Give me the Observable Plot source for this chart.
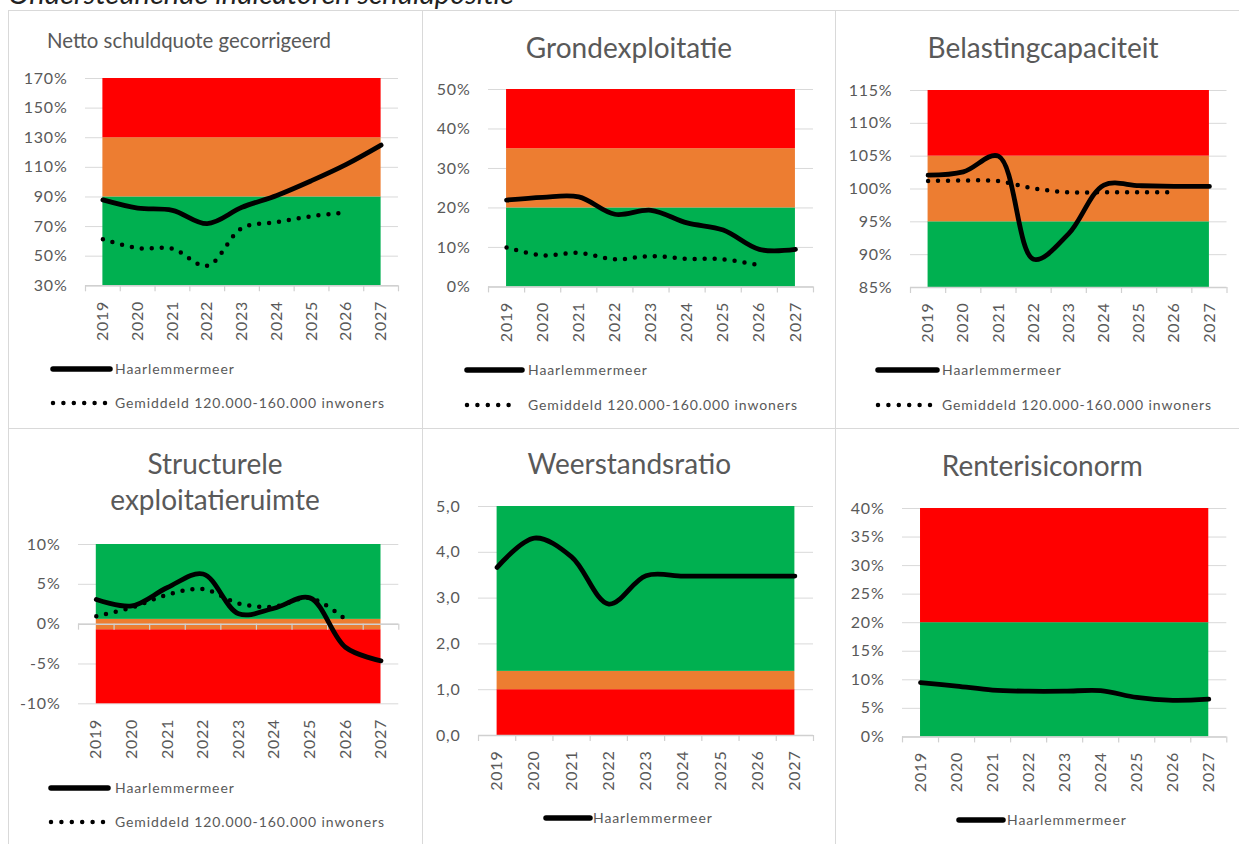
<!DOCTYPE html>
<html><head><meta charset="utf-8">
<script src="https://cdn.jsdelivr.net/npm/d3@7"></script>
<script src="https://cdn.jsdelivr.net/npm/@observablehq/plot@0.6"></script>
<style>
body{margin:0;background:#fff;width:1239px;height:844px;overflow:hidden;position:relative;font-family:Lato,"Open Sans",sans-serif;}
.panel{position:absolute;border:1px solid #d9d9d9;box-sizing:border-box;}
.title{position:absolute;color:#595959;font-size:28px;white-space:nowrap;line-height:36px;text-align:center;transform:translate(-50%,-50%);}
.lt{position:absolute;color:#595959;font-size:14px;letter-spacing:0.9px;white-space:nowrap;line-height:20px;transform:translateY(-50%);}
.sw{position:absolute;overflow:visible;}
.plotwrap{position:absolute;}
.plotwrap svg{overflow:visible;}
#main{position:absolute;left:8px;top:-22px;font-style:italic;font-size:29px;color:#222;white-space:nowrap;line-height:29px;}
</style></head>
<body>
<div id="main">Ondersteunende indicatoren schuldpositie</div>
<script>
// ---- data ----
const years = [2019, 2020, 2021, 2022, 2023, 2024, 2025, 2026, 2027];
const legendH = "Haarlemmermeer";
const legendG = "Gemiddeld 120.000-160.000 inwoners";

const nettoTitle = "Netto schuldquote gecorrigeerd";
const nettoH = [88, 82.5, 81, 72, 83, 91, 101, 112, 125];
const nettoG = [61.5, 55.5, 55, 43.5, 69, 73, 77, 79.5];
const nettoTicks = [30, 50, 70, 90, 110, 130, 150, 170];
const nettoEdges = [30, 90, 130, 170];
const nettoZones = ["groen", "oranje", "rood"];

const grondTitle = "Grondexploitatie";
const grondH = [22, 22.7, 22.8, 18.4, 19.4, 16.2, 14.4, 9.5, 9.5];
const grondG = [10, 8, 8.6, 7, 7.8, 7.1, 7, 5.5];
const grondTicks = [0, 10, 20, 30, 40, 50];
const grondEdges = [0, 20, 35, 50];
const grondZones = ["groen", "oranje", "rood"];

const belastTitle = "Belastingcapaciteit";
const belastH = [102.1, 102.6, 105, 89.3, 93.2, 100.6, 100.5, 100.4, 100.4];
const belastG = [101.2, 101.3, 101.2, 100.1, 99.5, 99.5, 99.5, 99.5];
const belastTicks = [85, 90, 95, 100, 105, 110, 115];
const belastEdges = [85, 95, 105, 115];
const belastZones = ["groen", "oranje", "rood"];

const structTitle = ["Structurele", "exploitatieruimte"];
const structH = [3.1, 2.3, 4.6, 6.3, 1.3, 2.0, 3.3, -2.9, -4.6];
const structG = [1.0, 2.1, 3.7, 4.4, 2.6, 2.2, 3.3, 0.6];
const structTicks = [-10, -5, 0, 5, 10];
const structEdges = [-10, -0.7, 0.6, 10];
const structZones = ["rood", "oranje", "groen"];

const weerTitle = "Weerstandsratio";
const weerH = [3.67, 4.31, 3.9, 2.87, 3.49, 3.48, 3.48, 3.48, 3.48];
const weerTicks = [0, 1, 2, 3, 4, 5];
const weerEdges = [0, 1, 1.4, 5];
const weerZones = ["rood", "oranje", "groen"];

const renteTitle = "Renterisiconorm";
const renteH = [9.5, 8.9, 8.2, 8.0, 8.0, 8.1, 6.9, 6.4, 6.6];
const renteTicks = [0, 5, 10, 15, 20, 25, 30, 35, 40];
const renteEdges = [0, 20, 40];
const renteZones = ["groen", "rood"];

const zoneNames = ["groen", "oranje", "rood"];
const zoneColors = ["#00B050", "#ED7D31", "#FF0000"];

// ---- layout helpers ----
const pct = d => d + "%";
const comma = d => d.toFixed(1).replace(".", ",");

function box(l, t, r, b) {
  const d = document.createElement("div");
  d.className = "panel";
  Object.assign(d.style, {left: l + "px", top: t + "px", width: (r - l) + "px", height: (b - t) + "px"});
  document.body.appendChild(d);
}
function title(text, cx, cy, extra) {
  const d = document.createElement("div");
  d.className = "title";
  d.innerHTML = Array.isArray(text) ? text.join("<br>") : text;
  Object.assign(d.style, {left: cx + "px", top: cy + "px"}, extra || {});
  document.body.appendChild(d);
}
function legend(text, x0, x1, y, tx, dotted) {
  const ns = "http://www.w3.org/2000/svg";
  const s = document.createElementNS(ns, "svg");
  s.setAttribute("class", "sw");
  s.setAttribute("width", x1 - x0 + 8);
  s.setAttribute("height", 10);
  s.style.left = (x0 - 4) + "px";
  s.style.top = (y - 5) + "px";
  const l = document.createElementNS(ns, "line");
  l.setAttribute("x1", 4); l.setAttribute("x2", x1 - x0 + 4);
  l.setAttribute("y1", 5); l.setAttribute("y2", 5);
  l.setAttribute("stroke", "black");
  l.setAttribute("stroke-linecap", "round");
  l.setAttribute("stroke-width", dotted ? 4.5 : 5.5);
  if (dotted) l.setAttribute("stroke-dasharray", "0,10.4");
  s.appendChild(l);
  document.body.appendChild(s);
  const t = document.createElement("div");
  t.className = "lt";
  t.textContent = text;
  Object.assign(t.style, {left: tx + "px", top: y + "px"});
  document.body.appendChild(t);
}

function panel(cfg) {
  const [fx0, fy0, fx1, fy1] = cfg.frame;
  const mL = 80, mR = 10, mT = 10, mB = 70;
  const W = fx1 - fx0 + mL + mR, H = fy1 - fy0 + mT + mB;
  const bands = cfg.zones.map((z, i) => ({zone: z, lo: cfg.edges[i], hi: cfg.edges[i + 1]}));
  const boundaries = d3.range(years[0] - 0.5, years[years.length - 1] + 1, 1);
  const base = cfg.base ?? cfg.ticks[0];
  const series = (vals) => vals.map((v, i) => ({year: years[i], v}));
  const marks = [
    Plot.gridY(cfg.ticks, {stroke: "#d9d9d9", strokeOpacity: 1, strokeWidth: 1}),
    Plot.rect(bands, {x1: () => years[0], x2: () => years[years.length - 1], y1: "lo", y2: "hi", fill: "zone"}),
    Plot.ruleY([base], {stroke: "#d0d0d0", strokeWidth: 1.5}),
    Plot.ruleX(boundaries, {x: d => d, y1: () => base, y2: () => base, insetBottom: -6, stroke: "#d0d0d0", strokeWidth: 1.2}),
    Plot.axisY(cfg.ticks, {anchor: "left", label: null, tickSize: 0, tickPadding: 18, tickFormat: cfg.fmt, fontSize: 16, color: "#595959"}),
    Plot.axisX(years, {anchor: "bottom", label: null, tickSize: 0, tickRotate: -90, tickPadding: 15, textAnchor: "end", lineAnchor: "middle", fontSize: 16, color: "#595959", tickFormat: d => String(d)})
  ];
  if (cfg.G) marks.push(Plot.line(series(cfg.G), {x: "year", y: "v", curve: "catmull-rom", stroke: "black", strokeWidth: 4.5, strokeLinecap: "round", strokeDasharray: "0,10"}));
  marks.push(Plot.line(series(cfg.H), {x: "year", y: "v", curve: "catmull-rom", stroke: "black", strokeWidth: 4.8, strokeLinecap: "round", strokeLinejoin: "round"}));
  const svg = Plot.plot({
    width: W, height: H,
    marginLeft: mL, marginRight: mR, marginTop: mT, marginBottom: mB,
    x: {domain: [years[0] - 0.5, years[years.length - 1] + 0.5], label: null},
    y: {domain: [cfg.ticks[0], cfg.ticks[cfg.ticks.length - 1]], label: null},
    color: {domain: zoneNames, range: zoneColors},
    style: {fontFamily: "Lato, 'Open Sans', sans-serif", background: "transparent", overflow: "visible", letterSpacing: "0.8px"},
    marks
  });
  const wrap = document.createElement("div");
  wrap.className = "plotwrap";
  wrap.style.left = (fx0 - mL) + "px";
  wrap.style.top = (fy0 - mT) + "px";
  wrap.appendChild(svg);
  document.body.appendChild(wrap);
}

// panel boxes
box(8, 10, 423, 429); box(422, 10, 836, 429); box(835, 10, 1250, 429);
box(8, 428, 423, 860); box(422, 428, 836, 860); box(835, 428, 1250, 860);

// panel 1
title(nettoTitle, 47, 40, {transform: "translateY(-50%)", fontSize: "20.4px", textAlign: "left"});
panel({frame: [85, 77.7, 398, 285], ticks: nettoTicks, fmt: pct, edges: nettoEdges, zones: nettoZones, H: nettoH, G: nettoG});
legend(legendH, 53, 110, 369, 115, false);
legend(legendG, 53, 106, 403, 115, true);

// panel 2
title(grondTitle, 629, 47);
panel({frame: [488, 89.3, 813, 286.7], ticks: grondTicks, fmt: pct, edges: grondEdges, zones: grondZones, H: grondH, G: grondG});
legend(legendH, 467, 522, 370, 528, false);
legend(legendG, 467, 518, 405, 528, true);

// panel 3
title(belastTitle, 1043, 47);
panel({frame: [910, 90.3, 1226.5, 287.3], ticks: belastTicks, fmt: pct, edges: belastEdges, zones: belastZones, H: belastH, G: belastG});
legend(legendH, 878, 937, 370, 942, false);
legend(legendG, 878, 932, 405, 942, true);

// panel 4
title(structTitle, 215, 481);
panel({frame: [78, 544, 398.3, 703.3], ticks: structTicks, fmt: pct, edges: structEdges, zones: structZones, H: structH, G: structG, base: 0});
legend(legendH, 51, 108, 788, 115, false);
legend(legendG, 51, 103, 822, 115, true);

// panel 5
title(weerTitle, 629.3, 463.3);
panel({frame: [478.3, 506, 813.3, 735], ticks: weerTicks, fmt: comma, edges: weerEdges, zones: weerZones, H: weerH});
legend(legendH, 546, 590, 818, 593, false);

// panel 6
title(renteTitle, 1042.3, 465);
panel({frame: [901.7, 508.3, 1226, 736.7], ticks: renteTicks, fmt: pct, edges: renteEdges, zones: renteZones, H: renteH});
legend(legendH, 959, 1003, 820, 1007, false);
</script>
</body></html>
